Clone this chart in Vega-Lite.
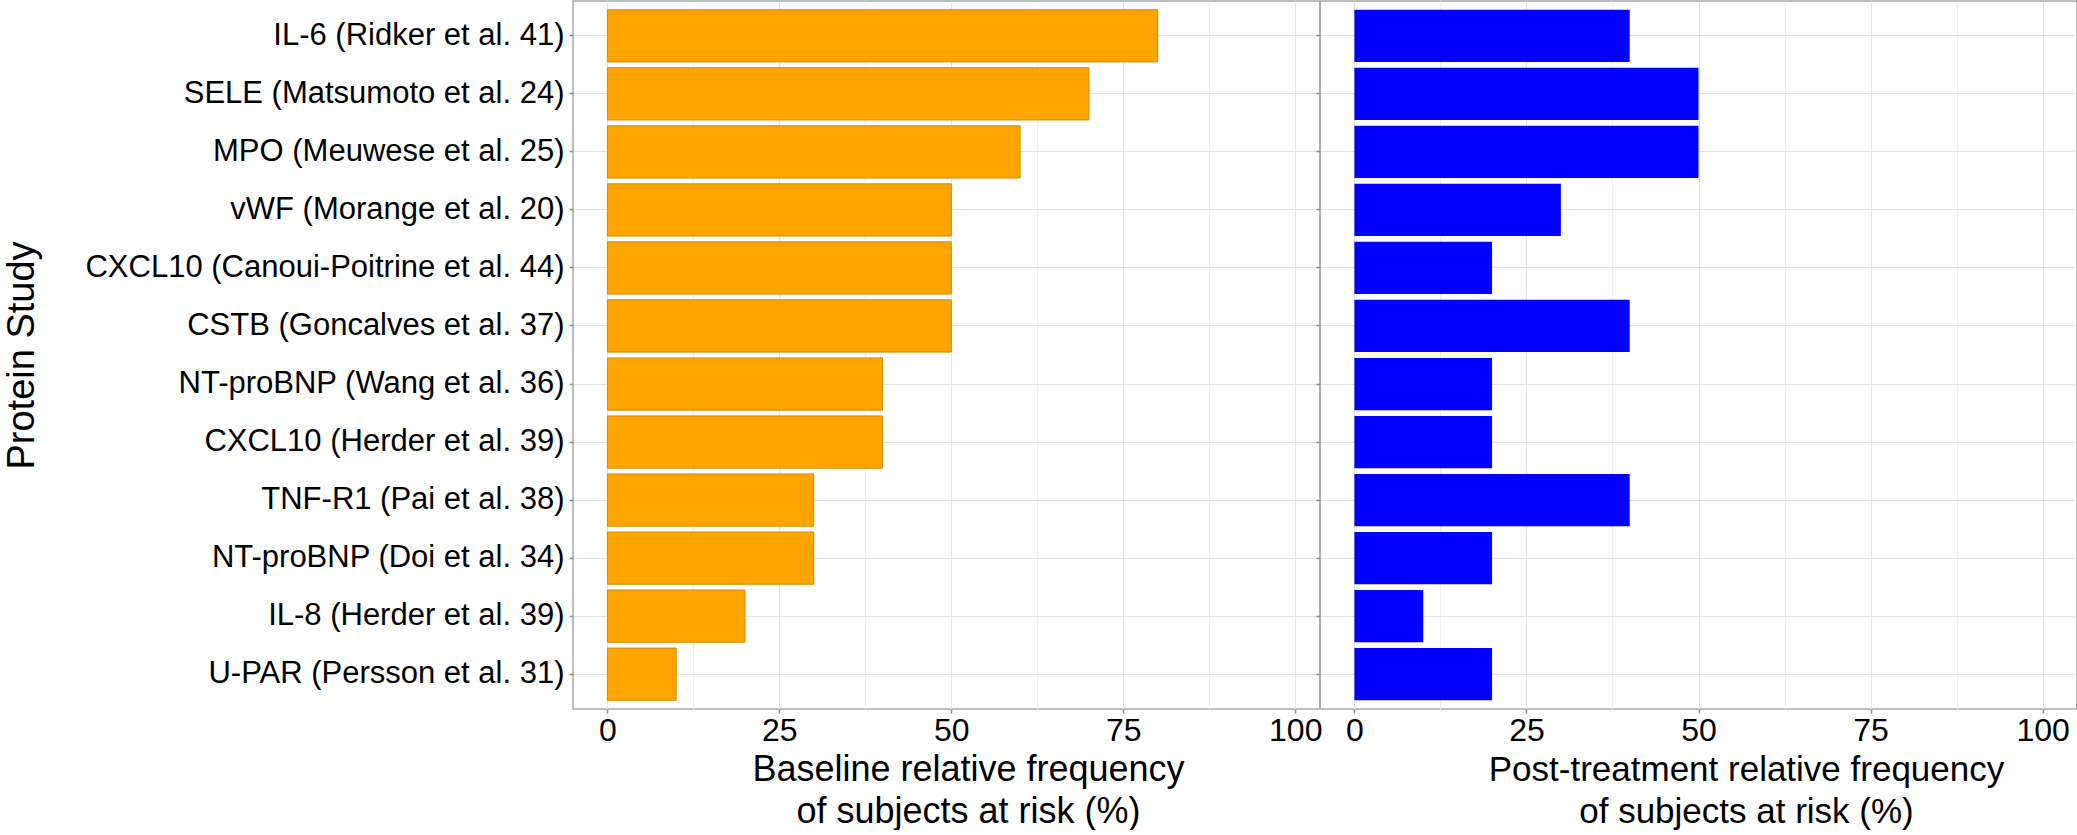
{
  "$schema": "https://vega.github.io/schema/vega-lite/v6.json",
  "padding": {"left": 2, "top": 0, "right": 0, "bottom": 0},
  "autosize": {"type": "pad"},
  "background": "white",
  "spacing": 0,
  "bounds": "flush",
  "config": {
    "font": "Liberation Sans",
    "view": {"stroke": "#a8a8a8", "strokeWidth": 1.5},
    "axis": {
      "titleFontWeight": "normal",
      "titleColor": "#000000",
      "labelColor": "#000000",
      "tickColor": "#8c8c8c",
      "tickWidth": 1.5,
      "tickSize": 4,
      "domain": false,
      "gridColor": "#e4e4e4",
      "gridWidth": 1
    }
  },
  "data": {
    "values": [
      {"study": "IL-6 (Ridker et al. 41)", "baseline": 80, "post": 40},
      {"study": "SELE (Matsumoto et al. 24)", "baseline": 70, "post": 50},
      {"study": "MPO (Meuwese et al. 25)", "baseline": 60, "post": 50},
      {"study": "vWF (Morange et al. 20)", "baseline": 50, "post": 30},
      {"study": "CXCL10 (Canoui-Poitrine et al. 44)", "baseline": 50, "post": 20},
      {"study": "CSTB (Goncalves et al. 37)", "baseline": 50, "post": 40},
      {"study": "NT-proBNP (Wang et al. 36)", "baseline": 40, "post": 20},
      {"study": "CXCL10 (Herder et al. 39)", "baseline": 40, "post": 20},
      {"study": "TNF-R1 (Pai et al. 38)", "baseline": 30, "post": 40},
      {"study": "NT-proBNP (Doi et al. 34)", "baseline": 30, "post": 20},
      {"study": "IL-8 (Herder et al. 39)", "baseline": 20, "post": 10},
      {"study": "U-PAR (Persson et al. 31)", "baseline": 10, "post": 20}
    ]
  },
  "hconcat": [
    {
      "width": 747,
      "height": 708,
      "mark": {"type": "bar", "color": "#FFA500", "stroke": "#d38c00", "strokeWidth": 1},
      "encoding": {
        "y": {
          "field": "study",
          "type": "nominal",
          "sort": null,
          "scale": {"paddingInner": 0.1, "paddingOuter": 0.15},
          "axis": {
            "title": "Protein Study",
            "titleFontSize": 38,
            "titleX": -570,
            "titleBaseline": "top",
            "titleAngle": 270,
            "labelFontSize": 31,
            "labelPadding": 5,
            "labelLimit": 800,
            "grid": true
          }
        },
        "x": {
          "field": "baseline",
          "type": "quantitative",
          "scale": {"domain": [-5, 103.6], "nice": false},
          "axis": {
            "title": ["Baseline relative frequency", "of subjects at risk (%)"],
            "titleFontSize": 36,
            "titleLineHeight": 42,
            "titleX": 395,
            "titleY": 43,
            "titleAlign": "center",
            "titleBaseline": "top",
            "values": [0, 12.5, 25, 37.5, 50, 62.5, 75, 87.5, 100],
            "labelExpr": "datum.value % 25 === 0 ? datum.label : ''",
            "labelOverlap": false,
            "labelFlush": false,
            "labelFontSize": 32,
            "labelPadding": 2,
            "tickOpacity": {"condition": {"test": "datum.value % 25 !== 0", "value": 0}, "value": 1},
            "gridColor": {"condition": {"test": "datum.value % 25 !== 0", "value": "#f0f0f0"}, "value": "#e4e4e4"},
            "grid": true
          }
        }
      }
    },
    {
      "width": 757,
      "height": 708,
      "mark": {"type": "bar", "color": "#0000FF"},
      "encoding": {
        "y": {
          "field": "study",
          "type": "nominal",
          "sort": null,
          "scale": {"paddingInner": 0.1, "paddingOuter": 0.15},
          "axis": {
            "title": null,
            "labels": false,
            "grid": true
          }
        },
        "x": {
          "field": "post",
          "type": "quantitative",
          "scale": {"domain": [-5, 105], "nice": false},
          "axis": {
            "title": ["Post-treatment relative frequency", "of subjects at risk (%)"],
            "titleFontSize": 35,
            "titleLineHeight": 42,
            "titleX": 426,
            "titleY": 43,
            "titleAlign": "center",
            "titleBaseline": "top",
            "values": [0, 12.5, 25, 37.5, 50, 62.5, 75, 87.5, 100],
            "labelExpr": "datum.value % 25 === 0 ? datum.label : ''",
            "labelOverlap": false,
            "labelFlush": false,
            "labelFontSize": 32,
            "labelPadding": 2,
            "tickOpacity": {"condition": {"test": "datum.value % 25 !== 0", "value": 0}, "value": 1},
            "gridColor": {"condition": {"test": "datum.value % 25 !== 0", "value": "#f0f0f0"}, "value": "#e4e4e4"},
            "grid": true
          }
        }
      }
    }
  ]
}
